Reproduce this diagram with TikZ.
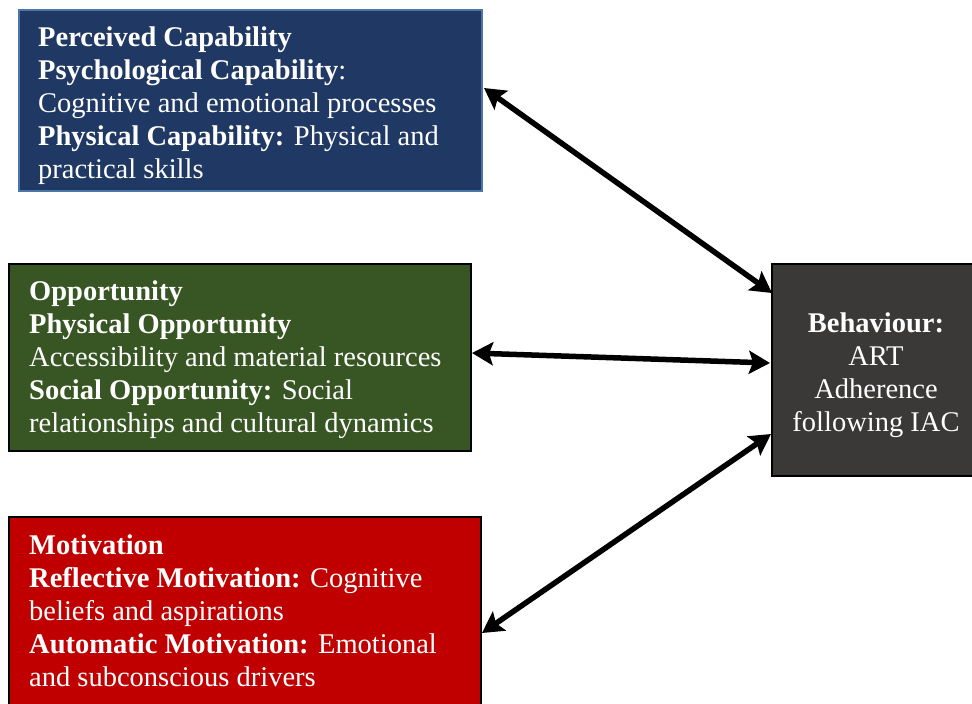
\documentclass[tikz,border=0pt]{standalone}
\usepackage{fontspec}
\setmainfont{Liberation Serif}
\usetikzlibrary{arrows.meta,calc}
\definecolor{capfill}{HTML}{203864}
\definecolor{capline}{HTML}{4A76A8}
\definecolor{oppfill}{HTML}{375623}
\definecolor{motfill}{HTML}{C00000}
\definecolor{behfill}{HTML}{3B3838}
\begin{document}
\begin{tikzpicture}[x=1pt,y=-1pt,
  panel/.style={draw=black,line width=2pt,anchor=north west,inner sep=0pt,outer sep=0pt},
  paneltext/.style={text=white,align=left,inner sep=0pt,anchor=north west,
    font=\fontsize{28.5}{33}\selectfont},
  centertext/.style={text=white,align=center,inner sep=0pt,anchor=north,
    font=\fontsize{28.5}{33}\selectfont},
  link/.style={line width=5.5pt,{Stealth[length=21pt,width=23pt,inset=4pt]}-{Stealth[length=21pt,width=23pt,inset=4pt]}}]
\useasboundingbox (0,0) rectangle (972,704);
\clip (0,0) rectangle (972,704);
\fill[white] (0,0) rectangle (972,704);

% the three COM-B components and the behaviour
\node[panel,draw=capline,fill=capfill,minimum width=463pt,minimum height=181pt] (cap) at (19,10) {};
\node[panel,fill=oppfill,minimum width=462pt,minimum height=187pt] (opp) at (9,264) {};
\node[panel,fill=motfill,minimum width=472pt,minimum height=200pt] (mot) at (9,517) {};
\node[panel,fill=behfill,minimum width=220pt,minimum height=212pt] (beh) at (772,264) {};

\node[paneltext] (captext) at (38,27) {\textbf{Perceived Capability}\\
  \textbf{Psychological Capability}:\\
  Cognitive and emotional processes\\
  \textbf{Physical Capability:} Physical and\\
  practical skills};
\node[paneltext] (opptext) at (29,281) {\textbf{Opportunity}\\
  \textbf{Physical Opportunity}\\
  Accessibility and material resources\\
  \textbf{Social Opportunity:} Social\\
  relationships and cultural dynamics};
\node[paneltext] (mottext) at (29,535) {\textbf{Motivation}\\
  \textbf{Reflective Motivation:} Cognitive\\
  beliefs and aspirations\\
  \textbf{Automatic Motivation:} Emotional\\
  and subconscious drivers};
\node[centertext] (behtext) at (876,313) {\textbf{Behaviour:}\\ ART\\ Adherence\\ following IAC};

% connector end points on the panel borders
\coordinate (capend) at ([yshift=-78pt,xshift=2pt]cap.north east);
\coordinate (behtop) at ([yshift=-29pt]beh.north west);
\coordinate (oppend) at ([yshift=-89pt,xshift=1pt]opp.north east);
\coordinate (behmid) at ([yshift=-99pt,xshift=-2pt]beh.north west);
\coordinate (motend) at ([yshift=-116pt,xshift=1pt]mot.north east);
\coordinate (behlow) at ([yshift=-170pt,xshift=-1pt]beh.north west);

\draw[link] (capend) -- (behtop);
\draw[link] (oppend) -- (behmid);
\draw[link] (motend) -- (behlow);
\end{tikzpicture}
\end{document}
